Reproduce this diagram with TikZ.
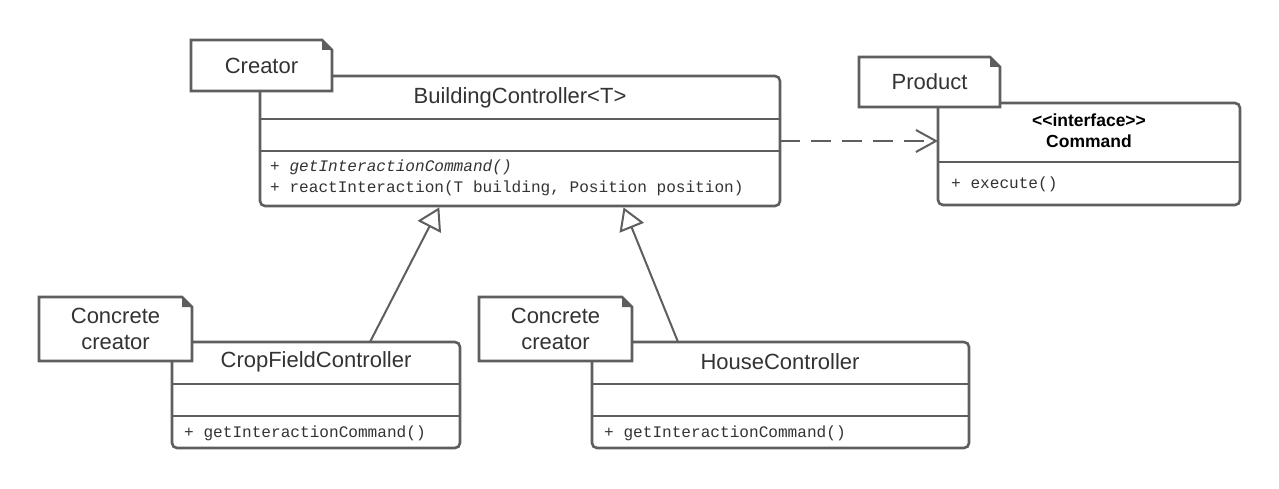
\documentclass[tikz,border=0pt]{standalone}
\usepackage{fontspec}
\setmainfont{Liberation Sans}[Ligatures=TeXOff]
\setmonofont{Liberation Mono}
\usetikzlibrary{arrows.meta}
\definecolor{umlline}{RGB}{94,94,94}
\definecolor{umltext}{RGB}{51,51,51}
\newcommand{\umlsans}{\fontsize{22}{26}\selectfont}
\newcommand{\umlhead}{\fontsize{17.5}{21}\selectfont\bfseries}
\newcommand{\umlcode}{\fontsize{16.1}{18}\selectfont\ttfamily}

\tikzset{
  classbox/.style={draw=umlline, line width=2.6pt, rounded corners=5pt, fill=white,
    anchor=north west, inner sep=0pt, outer sep=0pt},
  classline/.style={draw=umlline, line width=2.6pt},
  notebox/.style={fill=white, anchor=north west, inner sep=0pt, outer sep=0pt,
    text=umltext, align=center, font=\umlsans},
  noteline/.style={draw=umlline, line width=2.6pt},
  title/.style={text=umltext, font=\umlsans},
  method/.style={anchor=west, inner sep=0pt, text=umltext, font=\umlcode},
  inherit/.style={draw=umlline, line width=2pt, shorten >=1.5pt,
    -{Triangle[open, length=22pt, width=26pt, fill=white]}},
  realize/.style={draw=umlline, line width=2pt, dash pattern=on 20pt off 11pt,
    -{Straight Barb[length=20pt, width=22pt]}}
}

\begin{document}
\begin{tikzpicture}[x=1pt, y=-1pt]
    \useasboundingbox (0,0) rectangle (1279,489);

    \path
    node[classbox, minimum width=520pt, minimum height=130pt] (building) at (260,76) {}
    node[classbox, minimum width=302pt, minimum height=102pt] (command) at (938,103) {}
    node[classbox, minimum width=288pt, minimum height=106pt] (crop) at (172,342) {}
    node[classbox, minimum width=377pt, minimum height=106pt] (house) at (592,342) {};

    \draw[classline] ([yshift=-43pt]building.north west) -- ([yshift=-43pt]building.north east);
    \draw[classline] ([yshift=-75pt]building.north west) -- ([yshift=-75pt]building.north east);
    \draw[classline] ([yshift=-59pt]command.north west) -- ([yshift=-59pt]command.north east);
    \foreach \c in {crop,house} {
      \draw[classline] ([yshift=-42pt]\c.north west) -- ([yshift=-42pt]\c.north east);
      \draw[classline] ([yshift=-74pt]\c.north west) -- ([yshift=-74pt]\c.north east);
    }

    \path
    node[title] (building-name) at (520,98) {BuildingController<T>}
    node[method] (building-get) at (270,167) {+ \textit{getInteractionCommand()}}
    node[method] (building-react) at (270,188) {+ reactInteraction(T building, Position position)}
    node[title, font=\umlhead, text=black, align=center] (command-name) at (1089,131) {<<interface>>\\Command}
    node[method] (command-exec) at (951,184) {+ execute()}
    node[title] (crop-name) at (316,362) {CropFieldController}
    node[method] (crop-get) at (184,433) {+ getInteractionCommand()}
    node[title] (house-name) at (780,362) {HouseController}
    node[method] (house-get) at (604,433) {+ getInteractionCommand()};

    \path
    ([xshift=54pt]crop.north) edge[inherit] ([xshift=-80pt]building.south)
    ([xshift=-102.5pt]house.north) edge[inherit] ([xshift=103pt]building.south)
    (building.east) edge[realize] (building.east -| command.west);

    \path
    node[notebox, minimum width=141pt, minimum height=51pt] (creator) at (191,40) {Creator}
    node[notebox, minimum width=141pt, minimum height=50pt] (product) at (859,57) {Product}
    node[notebox, minimum width=153pt, minimum height=64pt] (crop-note) at (39,297) {Concrete\\creator}
    node[notebox, minimum width=153pt, minimum height=64pt] (house-note) at (479,297) {Concrete\\creator};

    \foreach \n in {creator,product,crop-note,house-note} {
      \draw[noteline] (\n.south west) -- (\n.north west) -- ([xshift=-10pt]\n.north east)
        -- ([yshift=-10pt]\n.north east) -- (\n.south east) -- cycle;
      \fill[umlline] ([xshift=-10pt]\n.north east) -- ([xshift=-10pt, yshift=-10pt]\n.north east)
        -- ([yshift=-10pt]\n.north east) -- cycle;
    }
\end{tikzpicture}
\end{document}
